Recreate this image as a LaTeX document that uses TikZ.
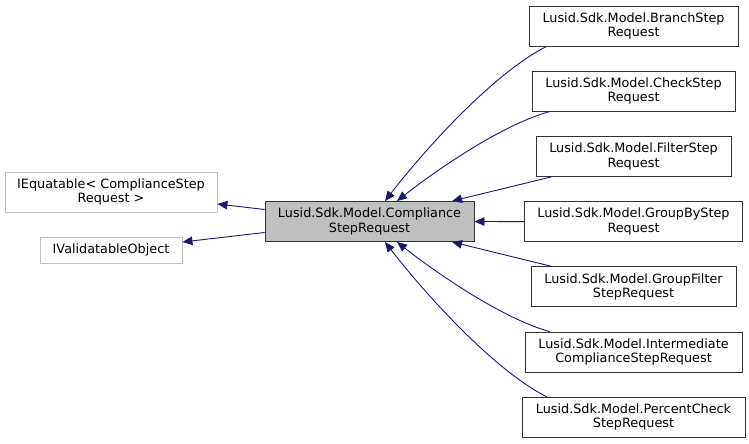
\documentclass[tikz,border=0pt]{standalone}
\usepackage{fontspec}
\setmainfont{DejaVu Sans}
\usepackage{xcolor}
\usetikzlibrary{arrows.meta, positioning}
\definecolor{edgeblue}{RGB}{25,25,112}

\begin{document}
\begin{tikzpicture}[
        x=1pt, y=-1pt,
        node distance=24.3pt,
        every node/.style={font=\fontsize{12.8}{14.4}\selectfont},
        cls/.style={rectangle, draw=black!80, line width=0.9pt, fill=white,
            minimum height=40pt, inner sep=1pt, align=center, minimum width=#1},
        ext/.style={rectangle, draw=black!25, line width=0.9pt,
            minimum height=40pt, inner sep=1pt, align=center, minimum width=#1},
        base/.style={cls=#1, fill=black!25},
        inh/.style={line width=0.9pt, draw=edgeblue, ->,
            >={Triangle[length=10pt, width=8.5pt]}}
    ]
    \useasboundingbox (0,0) rectangle (749,444);

    % the class itself
    \node (comp)  [base=209pt] at (369.5,221.5) {Lusid.Sdk.Model.Compliance\\StepRequest};

    % interfaces it implements
    \node (iequ)  [ext=212pt] at (111,192)   {IEquatable< ComplianceStep\\Request >};
    \node (ival)  [ext=142pt, minimum height=26pt] at (111,250) {IValidatableObject};

    % derived requests
    \node (branch)   [cls=209pt] at (633.5,26) {Lusid.Sdk.Model.BranchStep\\Request};
    \node (check)    [cls=203pt, below=of branch]   {Lusid.Sdk.Model.CheckStep\\Request};
    \node (filter)   [cls=195pt, below=of check]    {Lusid.Sdk.Model.FilterStep\\Request};
    \node (groupby)  [cls=218pt, below=of filter]   {Lusid.Sdk.Model.GroupByStep\\Request};
    \node (grpfilt)  [cls=205pt, below=of groupby]  {Lusid.Sdk.Model.GroupFilter\\StepRequest};
    \node (interm)   [cls=217pt, below=of grpfilt]  {Lusid.Sdk.Model.Intermediate\\ComplianceStepRequest};
    \node (pctcheck) [cls=223pt, below=of interm]   {Lusid.Sdk.Model.PercentCheck\\StepRequest};

    \draw [inh] ([yshift=12pt]comp.west)  -- ([yshift=-12pt]iequ.east);
    \draw [inh] ([yshift=-11pt]comp.west) -- ([yshift=8pt]ival.east);

    \draw [inh] ([xshift=18pt]branch.south west)
        .. controls (492,74) and (422,153) .. ([xshift=15.5pt]comp.north);
    \draw [inh] ([xshift=18pt]check.south west)
        .. controls (500,125) and (430,175) .. ([xshift=27.5pt]comp.north);
    \draw [inh] ([xshift=16pt]filter.south west) -- ([xshift=82.5pt]comp.north);
    \draw [inh] (groupby.west) -- (comp.east);
    \draw [inh] ([xshift=21pt]grpfilt.north west) -- ([xshift=82.5pt]comp.south);
    \draw [inh] ([xshift=25pt]interm.north west)
        .. controls (500,318) and (430,268) .. ([xshift=27.5pt]comp.south);
    \draw [inh] ([xshift=25pt]pctcheck.north west)
        .. controls (492,369) and (422,290) .. ([xshift=15.5pt]comp.south);
\end{tikzpicture}
\end{document}
